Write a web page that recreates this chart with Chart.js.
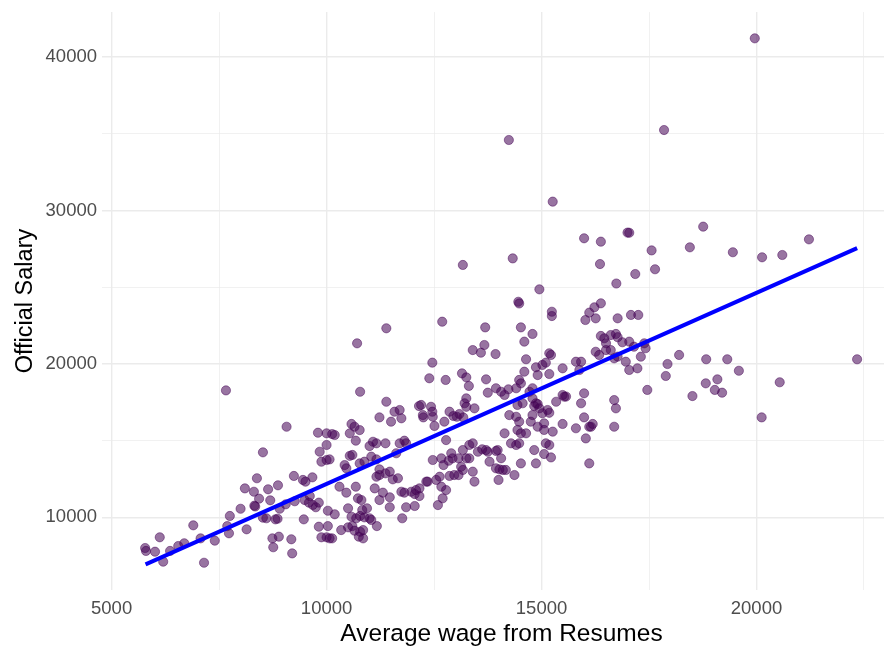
<!DOCTYPE html>
<html>
<head>
<meta charset="utf-8">
<title>Official Salary vs Average wage from Resumes</title>
<script src="https://cdn.jsdelivr.net/npm/chart.js@4.4.1/dist/chart.umd.min.js"></script>
<style>
  html, body { margin: 0; padding: 0; background: #ffffff; }
  #chart { display: block; }
</style>
</head>
<body>
<canvas id="chart" width="884" height="650"></canvas>
<script>
// Each entry: [average wage from resumes, official salary]
const observations = [
  [19960,41230],[17850,35250],[14240,34600],[15260,30580],[18760,28950],[17000,28560],[17040,28550],
  [15990,28190],[16380,27970],[21220,28120],[18450,27600],[17560,27400],[19450,27280],[20130,26950],
  [20600,27100],[14330,26880],[13170,26450],[16360,26510],[17640,26170],[17180,25860],[16740,25240],
  [14950,24860],[14460,24050],[14480,23940],[16380,23950],[16230,23690],[16110,23340],[15240,23400],
  [15240,23120],[16020,22860],[16260,22970],[16770,22970],[17080,23190],[17250,23190],
  [12690,22750],[11390,22320],[13690,22380],[14520,22380],[14790,21950],[14600,21450],[10710,21340],
  [13670,21230],[13400,20900],[13590,20730],[13930,20640],[14640,20300],[12460,20080],
  [15100,20080],[15020,19930],[14870,19780],[12390,19060],[12770,18950],[13150,19380],[13250,19120],
  [13310,18560],[13710,18990],[14600,19490],[14480,18950],[14520,18730],[14910,19270],[13750,18120],
  [13940,18410],[14060,18180],[14230,18340],[14140,17970],[14410,18410],[14790,18410],[13250,17750],
  [10780,18180],[7660,18270],[11390,17530],[11230,16510],[11580,16880],[11700,16990],[11740,16450],
  [11500,16230],[12150,17250],[12200,17320],[12250,16510],
  [16380,21820],[16460,21670],[16610,21880],[16730,21950],[16500,21340],[16260,20790],[16340,20580],
  [16500,20900],[16770,21740],[16880,21410],[17040,21450],[17150,21120],[16610,20900],[16690,20360],
  [16770,20470],[16960,20140],[17040,19600],[17230,19710],[17310,20470],[17420,21020],[17390,21340],
  [17460,18300],[16690,17640],[16730,17100],[16690,15900],[15920,20140],[15800,20140],[15880,19600],
  [15490,19710],[15180,20690],[15220,20580],[15180,19340],[14720,18180],[14790,17750],
  [14870,17430],[15140,16990],[15180,16810],[15340,17530],[15490,17970],[15530,17860],[15570,17870],
  [15920,17430],[15990,18080],[15990,16510],[15800,15800],[16150,15900],[16110,15900],[16190,16080],
  [15490,16080],[15260,15580],[15060,15690],[15180,14710],[15060,14120],[15220,13900],[16030,15140],
  [16110,13510],
  [18200,20580],[17930,19990],[17890,19210],[18510,17900],[18830,20300],[19320,20300],[19590,19550],
  [19090,18990],[18820,18730],[19030,18300],[19200,18120],[22340,20300],[20540,18800],[20120,16510],
  [12240,16660],[12430,17200],[12460,16880],[12470,16550],[12510,15950],[12740,16230],[12860,16880],
  [12950,16600],[13030,16550],[13090,16730],[13180,16510],[13210,17430],[13250,17200],[13440,17100],
  [12780,15030],[13320,14710],[13400,14820],[13520,14270],[13620,14430],[13710,14380],[13750,14270],
  [13790,13620],[13940,14320],[13980,14380],[14060,13840],[13170,14380],[13250,13840],[13320,13840],
  [12470,13730],[12670,13840],[12720,13400],[12840,13680],[12900,14170],[12930,13840],[13070,13840],
  [13130,13290],[13170,13080],[13070,12750],[13400,12970],[13440,12320],[12350,12320],[12550,12430],
  [12630,12640],[12670,11990],[12780,11770],[12860,12690],[12970,12750],[12700,11230],[12590,10790],
  [12160,11880],[13940,13190],[14020,13120],[14100,13080],[14170,13080],[14000,12430],[14370,12750],
  [14520,13510],[14830,14380],[14870,13510],[14140,15470],[14290,14820],[14410,14710],[14480,14820],
  [14440,15690],[14520,15470],[14640,15470],[14480,16230],[14410,16550],[14250,16660],[14440,17320],
  [14560,17430],[14830,17250],[14910,17380],[14950,17100],[15020,16780],[14790,16660],[14750,16230],
  [14910,15900],[15060,16120],[15100,14820],
  [9800,15510],[10000,15470],[10130,15420],[10190,15360],[10580,16080],[10540,15470],[10650,15900],
  [10770,15680],[10680,14990],[11000,14640],[11080,14920],[11160,14820],[11370,14820],[9840,14270],
  [10000,14710],[9880,13620],[10000,13730],[10070,13770],[10540,14000],[10600,14060],[10420,13400],
  [10460,13190],[10770,13510],[10880,13620],[11040,13950],[11160,13770],[11230,13120],[11370,12860],
  [11470,12970],[11540,12470],[11660,12540],[11160,12640],[11230,12750],[11700,14820],[11810,14990],
  [11850,14820],[11620,14170],[12320,12320],[9450,12430],[9510,12320],[9670,12600],[9490,11120],
  [9610,11380],[9590,10950],[9680,10800],[9750,10650],[9820,10950],[9470,9860],[10030,10420],
  [10190,10190],[10300,11990],[10460,11600],[10680,11990],[10730,11230],[10810,11120],[10940,10580],
  [11000,9930],[10500,10580],[10580,10030],[10690,9930],[10780,10080],[10880,9990],[10830,10470],
  [10030,9420],[9820,9380],[10000,8690],[10070,8620],[10130,8620],[9880,8690],[10340,9160],
  [10500,9340],[10600,9420],[10650,9120],[10780,9050],[10850,9160],[10750,8730],[10850,8620],
  [11040,9820],[11170,9420],[11120,11880],[11310,11600],[11470,11300],[11230,11120],[11470,10650],
  [11760,9930],[11850,10650],[12050,10730],[11740,11660],[11810,11600],[11970,11660],[12050,11510],
  [12080,11770],[12160,11380],
  [5780,7990],[5800,7800],[6010,7750],[6200,7100],[6120,8690],[6360,7800],[6550,8120],[6690,8300],
  [6900,9470],[7070,8620],[7150,7030],[7400,8470],[7730,8950],[7750,10080],[7690,9420],[8000,10550],
  [8140,9210],[8100,11880],[8310,11660],[8320,10750],[8340,10700],[8380,12540],[8430,11210],
  [8520,14230],[8520,9970],[8600,9930],[8640,11820],[8690,11100],[8740,8620],[8760,8040],[8810,9860],
  [8860,9900],[8870,12080],[8890,8730],[8910,10550],[9070,15900],[9050,10840],[9180,8560],[9200,7640],
  [9240,12690],[9260,11040]
];

// Least-squares fit line, evaluated at the ends of the wage range
const fitWage = [5790, 22340];
const fitSalary = [6920, 27550];

// Axis breaks: grid lines every 2500 / 5000, labels on the major ones
const wageBreaks = [5000, 7500, 10000, 12500, 15000, 17500, 20000, 22500];
const salaryBreaks = [10000, 15000, 20000, 25000, 30000, 35000, 40000];
const wageLabelStep = 5000;
const salaryLabelStep = 10000;

const xTitle = 'Average wage from Resumes';
const yTitle = 'Official Salary';

const FONT = '"Liberation Sans", Arial, Helvetica, sans-serif';

// Panel frame: where two breaks of each axis sit on the canvas
const frame = {
  x: { lo: [5000, 111.6], hi: [20000, 756.5] },
  y: { lo: [10000, 517.2], hi: [40000, 57.2] }
};
// The plotting panel continues a little past the right edge of the canvas;
// the x-axis title is centred on the full panel width.
const panelOverhang = 17;

const gridWidth = (step) => (ctx) =>
  ctx.tick && ctx.tick.value % step === 0 ? 1.4 : 0.7;

const xTitlePlugin = {
  id: 'xTitle',
  afterDraw(chart) {
    const { ctx, chartArea } = chart;
    const cx = (chartArea.left + chartArea.right + panelOverhang) / 2;
    ctx.save();
    ctx.font = '24.5px ' + FONT;
    ctx.fillStyle = '#000000';
    ctx.textAlign = 'center';
    ctx.textBaseline = 'middle';
    ctx.fillText(xTitle, cx, chart.height - 16);
    ctx.restore();
  }
};

const chart = new Chart(document.getElementById('chart'), {
  data: {
    datasets: [
      {
        type: 'line',
        data: fitWage.map((w, i) => ({ x: w, y: fitSalary[i] })),
        borderColor: '#0000ff',
        borderWidth: 4,
        pointRadius: 0,
        fill: false,
        tension: 0,
        order: 0
      },
      {
        type: 'scatter',
        data: observations.map(([w, s]) => ({ x: w, y: s })),
        backgroundColor: 'rgba(68, 1, 84, 0.55)',
        borderColor: 'rgba(68, 1, 84, 0.6)',
        borderWidth: 0.8,
        pointRadius: 4.6,
        order: 1
      }
    ]
  },
  plugins: [xTitlePlugin],
  options: {
    responsive: false,
    devicePixelRatio: 1,
    animation: false,
    events: [],
    layout: { autoPadding: false, padding: { left: 0, right: 0, top: 12.1, bottom: 0 } },
    plugins: {
      legend: { display: false },
      tooltip: { enabled: false }
    },
    scales: {
      x: {
        type: 'linear',
        min: 4760,
        max: 23190,
        afterBuildTicks: (axis) => { axis.ticks = wageBreaks.map(v => ({ value: v })); },
        afterFit: (axis) => {
          axis.height = 60;
          axis.paddingLeft = 0;
          axis.paddingRight = 0;
        },
        border: { display: false },
        grid: {
          color: '#ebebeb',
          lineWidth: gridWidth(wageLabelStep),
          drawTicks: false
        },
        ticks: {
          autoSkip: false,
          maxRotation: 0,
          padding: 8,
          color: '#4d4d4d',
          font: { family: FONT, size: 18.5 },
          callback: (v) => (v % wageLabelStep === 0 ? String(v) : '')
        },
        title: { display: false }
      },
      y: {
        type: 'linear',
        min: 5320,
        max: 42940,
        afterBuildTicks: (axis) => { axis.ticks = salaryBreaks.map(v => ({ value: v })); },
        afterFit: (axis) => {
          axis.width = 102;
          axis.paddingTop = 0;
          axis.paddingBottom = 0;
        },
        border: { display: false },
        grid: {
          color: '#ebebeb',
          lineWidth: gridWidth(salaryLabelStep),
          drawTicks: false
        },
        ticks: {
          autoSkip: false,
          padding: 5,
          color: '#4d4d4d',
          font: { family: FONT, size: 18.5 },
          callback: (v) => (v % salaryLabelStep === 0 ? String(v) : '')
        },
        title: {
          display: true,
          text: yTitle,
          color: '#000000',
          font: { family: FONT, size: 23.5 },
          padding: { top: 11, bottom: 0 }
        }
      }
    }
  }
});

// Set each axis range so its breaks land on the panel frame
function rangeFor(start, end, spec) {
  const [v0, p0] = spec.lo, [v1, p1] = spec.hi;
  const perUnit = (p1 - p0) / (v1 - v0);
  return { min: v0 + (start - p0) / perUnit, max: v0 + (end - p0) / perUnit };
}
const area = chart.chartArea;
Object.assign(chart.options.scales.x, rangeFor(area.left, area.right, frame.x));
Object.assign(chart.options.scales.y, rangeFor(area.bottom, area.top, frame.y));
chart.update();
</script>
</body>
</html>
